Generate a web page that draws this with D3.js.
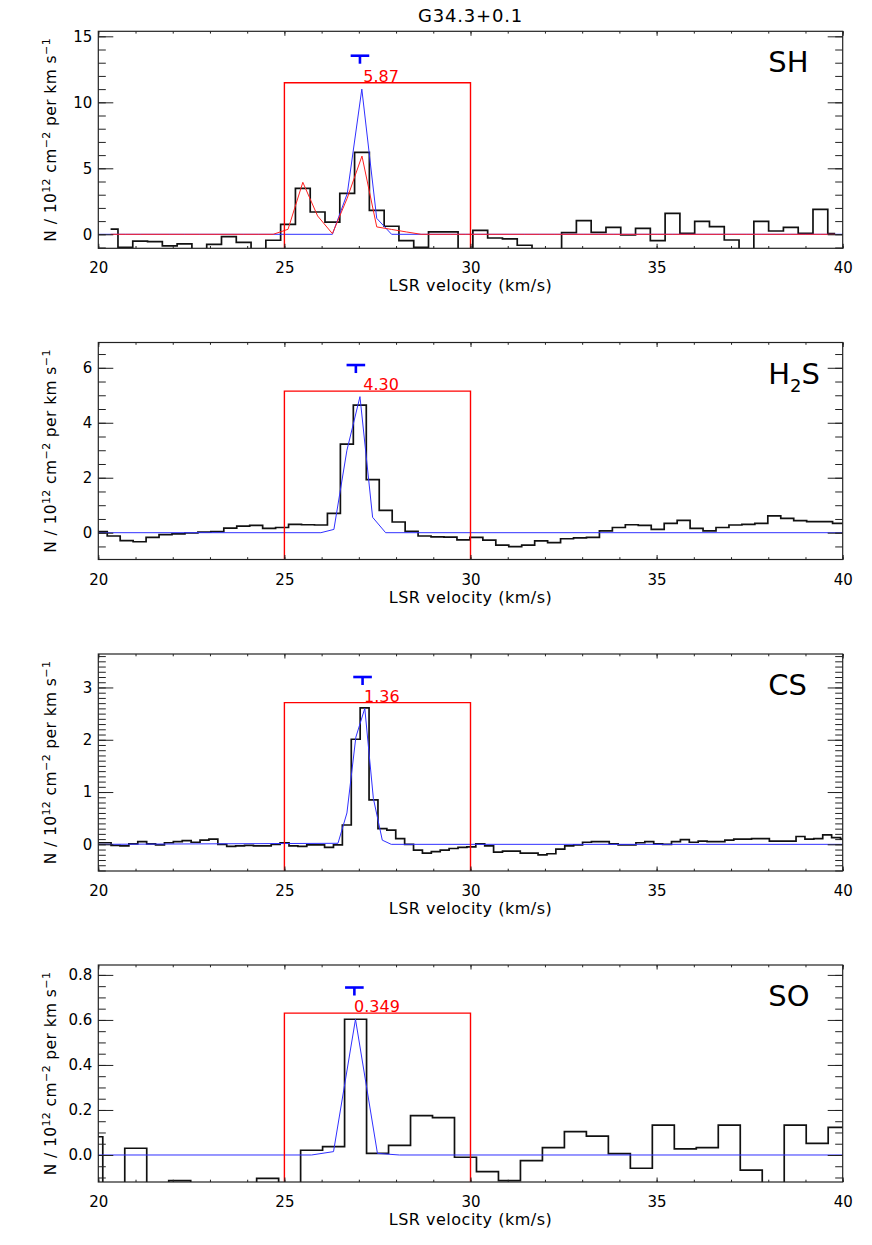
<!DOCTYPE html>
<html>
<head>
<meta charset="utf-8">
<script src="https://cdn.jsdelivr.net/npm/d3@7"></script>
<style>
  html, body { margin: 0; padding: 0; background: #fff; }
  svg { display: block; font-family: "DejaVu Sans", sans-serif; }
</style>
</head>
<body>
<script>
// ---------------- DATA ----------------
const chartTitle = "G34.3+0.1";
const xDomain = [20, 40];
const xMajorTicks = [20, 25, 30, 35, 40];
const xMinorStep = 1;
const xAxisTitle = "LSR velocity (km/s)";

const panelLabels = ["SH", "H2S", "CS", "SO"];

// SH : channel grid + observed column density per channel
const shStart = 20.33, shStep = 0.3973;
const shObs = [0.40, -0.98, -0.51, -0.56, -0.88, -0.73, -1.40, -0.76, -0.18, -0.61,
  -1.30, -0.45, 0.76, 3.48, 1.69, 0.93, 3.10, 6.21, 1.82, 0.61,
  -0.48, -0.98, 0.18, 0.18, -1.35, 0.30, -0.28, -0.35, -0.83, -1.45,
  -1.20, 0.13, 1.04, 0.15, 0.53, -0.05, 0.45, -0.48, 1.59, 0.08,
  0.98, 0.58, -0.43, -1.25, 0.98, 0.25, 0.53, 0.08, 1.89, 0.05];
const shRedModel = [0, 0, 0, 0, 0, 0, 0, 0, 0, 0,
  0, 0, 0.38, 3.94, 1.39, 0.05, 2.73, 5.93, 0.56, 0.37,
  0.18, 0, 0, 0, 0, 0, 0, 0, 0, 0,
  0, 0, 0, 0, 0, 0, 0, 0, 0, 0,
  0, 0, 0, 0, 0, 0, 0, 0, 0, 0];
const shBlueV = [20, 26.29, 26.69, 27.08, 27.48, 27.88, 40];
const shBlueN = [0, 0, 3.1, 11.0, 1.21, 0, 0];

// H2S
const h2sStart = 19.718, h2sStep = 0.348;
const h2sObs = [0.04, 0.04, -0.12, -0.29, -0.33, -0.17, -0.07, -0.04, -0.01, 0.02, 0.04,
  0.17, 0.24, 0.27, 0.16, 0.19, 0.30, 0.29, 0.28, 0.70, 3.22,
  4.64, 1.93, 0.81, 0.39, 0.05, -0.12, -0.15, -0.16, -0.26, -0.17,
  -0.27, -0.45, -0.51, -0.45, -0.30, -0.36, -0.22, -0.19, -0.17, 0.07,
  0.19, 0.29, 0.27, 0.12, 0.34, 0.45, 0.16, 0.07, 0.19, 0.28,
  0.30, 0.34, 0.61, 0.52, 0.44, 0.40, 0.40, 0.34, 0.34];
const h2sBlueV = [20, 25.98, 26.33, 26.68, 27.03, 27.37, 27.72, 40];
const h2sBlueN = [0, 0, 0.12, 3.0, 4.95, 0.56, 0, 0];

// CS
const csStart = 19.985, csStep = 0.239;
const csObs = [0.03, 0.03, -0.02, -0.03, 0.01, 0.05, 0.01, -0.01, 0.03, 0.05,
  0.07, 0.04, 0.08, 0.10, 0.00, -0.04, -0.03, -0.02, -0.03, -0.03,
  0.00, 0.03, -0.03, -0.04, -0.01, -0.01, -0.06, -0.01, 0.37, 2.01,
  2.61, 0.85, 0.30, 0.27, 0.11, 0.00, -0.11, -0.17, -0.14, -0.11,
  -0.08, -0.06, -0.05, 0.01, -0.03, -0.15, -0.13, -0.13, -0.17, -0.17,
  -0.20, -0.18, -0.09, -0.03, -0.01, 0.04, 0.05, 0.05, 0.01, -0.01,
  -0.01, 0.03, 0.05, 0.01, 0.00, 0.05, 0.09, 0.04, 0.06, 0.05,
  0.05, 0.08, 0.10, 0.10, 0.11, 0.11, 0.06, 0.06, 0.06, 0.15,
  0.10, 0.11, 0.18, 0.13, 0.10];
const csBlueV = [20, 26.44, 26.68, 26.92, 27.16, 27.39, 27.63, 27.87, 40];
const csBlueN = [0, 0.02, 0.6, 2.05, 2.6, 0.88, 0.08, 0, 0];

// SO
const soStart = 19.825, soStep = 0.5906;
const soObs = [0.081, -0.2, 0.030, -0.2, -0.114, -0.2, -0.2, -0.2, -0.104, -0.2,
  0.021, 0.037, 0.603, 0.007, 0.043, 0.175, 0.166, -0.010, -0.074, -0.114,
  -0.025, 0.033, 0.104, 0.084, 0.006, -0.059, 0.133, 0.027, 0.033, 0.133,
  -0.067, -0.2, 0.133, 0.052, 0.123, 0.123];
const soBlueV = [20, 25.73, 26.32, 26.91, 27.50, 28.09, 40];
const soBlueN = [0, 0, 0.015, 0.603, 0.007, 0, 0];

// y ranges, ticks
const yRanges = [[-1.06, 15.38], [-0.975, 6.92], [-0.51, 3.64], [-0.12, 0.844]];
const yMajorSteps = [5, 2, 1, 0.2];
const yMinorSteps = [1, 0.5, 0.1, 0.05];
const yTickFormats = ["d", "d", "d", ".1f"];

// integration window, integrated values, markers
const windowV = [25, 30];
const windowTop = [11.48, 5.15, 2.71, 0.63];
const integratedText = ["5.87", "4.30", "1.36", "0.349"];
const integratedTextV = [27.12, 27.12, 27.14, 26.87];
const markerV = [27.03, 26.92, 27.10, 26.88];
const markerN = [13.53, 6.10, 3.20, 0.744];
const markerHalfWidth = 0.25;

// ---------------- LAYOUT ----------------
const W = 872, H = 1245;
const plotLeft = 98.3, plotRight = 842.7;
const panelTops = [31.3, 342.5, 654, 965];
const panelHeight = 217;

const svg = d3.select("body").append("svg").attr("width", W).attr("height", H);

const x = d3.scaleLinear().domain(xDomain).range([plotLeft, plotRight]);

svg.append("text")
  .attr("x", (plotLeft + plotRight) / 2).attr("y", 22)
  .attr("text-anchor", "middle")
  .style("font-size", "18px").style("letter-spacing", "0.8px")
  .text(chartTitle);

function grid(start, step, n) { return d3.range(n).map(i => start + step * i); }

const panels = [
  { v: grid(shStart, shStep, shObs.length), n: shObs, red: shRedModel, bv: shBlueV, bn: shBlueN },
  { v: grid(h2sStart, h2sStep, h2sObs.length), n: h2sObs, red: null, bv: h2sBlueV, bn: h2sBlueN },
  { v: grid(csStart, csStep, csObs.length), n: csObs, red: null, bv: csBlueV, bn: csBlueN },
  { v: grid(soStart, soStep, soObs.length), n: soObs, red: null, bv: soBlueV, bn: soBlueN }
];

function stepPoints(vs, ns) {
  const pts = [], n = vs.length;
  for (let i = 0; i < n; i++) {
    const l = i === 0 ? vs[0] : (vs[i - 1] + vs[i]) / 2;
    const r = i === n - 1 ? vs[n - 1] : (vs[i] + vs[i + 1]) / 2;
    pts.push([l, ns[i]], [r, ns[i]]);
  }
  return pts;
}

function rangeTicks(dom, step) {
  const s = Math.ceil(dom[0] / step - 1e-9), e = Math.floor(dom[1] / step + 1e-9);
  return d3.range(s, e + 1).map(k => +(k * step).toFixed(6));
}

panels.forEach((p, i) => {
  const top = panelTops[i], bottom = top + panelHeight;
  const y = d3.scaleLinear().domain(yRanges[i]).range([bottom, top]);
  const g = svg.append("g");

  const clipId = "clip" + i;
  svg.append("clipPath").attr("id", clipId).append("rect")
    .attr("x", plotLeft).attr("y", top).attr("width", plotRight - plotLeft).attr("height", panelHeight);
  const inner = g.append("g").attr("clip-path", `url(#${clipId})`);

  const line = d3.line().x(d => x(d[0])).y(d => y(d[1]));

  // observed spectrum (histogram style)
  inner.append("path").attr("d", line(stepPoints(p.v, p.n)))
    .attr("fill", "none").attr("stroke", "#111").attr("stroke-width", 1.7);

  // blue model
  inner.append("path").attr("d", line(p.bv.map((v, k) => [v, p.bn[k]])))
    .attr("fill", "none").attr("stroke", "#3030ff").attr("stroke-width", 1);

  // red model (SH only)
  if (p.red) {
    inner.append("path").attr("d", line(p.v.map((v, k) => [v, p.red[k]])))
      .attr("fill", "none").attr("stroke", "#ff2020").attr("stroke-width", 1);
  }

  // integration window
  inner.append("path")
    .attr("d", line([[windowV[0], yRanges[i][0] - 10], [windowV[0], windowTop[i]], [windowV[1], windowTop[i]], [windowV[1], yRanges[i][0] - 10]]))
    .attr("fill", "none").attr("stroke", "#ff0000").attr("stroke-width", 1.4);

  // marker "T"
  const my = y(markerN[i]);
  g.append("line").attr("x1", x(markerV[i] - markerHalfWidth)).attr("x2", x(markerV[i] + markerHalfWidth))
    .attr("y1", my).attr("y2", my).attr("stroke", "#0000ff").attr("stroke-width", 2.6);
  g.append("line").attr("x1", x(markerV[i])).attr("x2", x(markerV[i]))
    .attr("y1", my).attr("y2", my + 8).attr("stroke", "#0000ff").attr("stroke-width", 2.6);

  // integrated value
  g.append("text").attr("x", x(integratedTextV[i])).attr("y", y(windowTop[i]) - 1)
    .attr("fill", "#ff0000").style("font-size", "16px").text(integratedText[i]);

  // panel label
  const lab = g.append("text").attr("x", x(38.0)).attr("y", top + 41).style("font-size", "29px");
  if (panelLabels[i] === "H2S") {
    lab.append("tspan").text("H");
    lab.append("tspan").style("font-size", "18px").attr("dy", 8).text("2");
    lab.append("tspan").attr("dy", -8).text("S");
  } else {
    lab.text(panelLabels[i]);
  }

  // axes
  const xMinor = rangeTicks(xDomain, xMinorStep);
  const yMajor = rangeTicks(yRanges[i], yMajorSteps[i]);
  const yMinor = rangeTicks(yRanges[i], yMinorSteps[i]);
  const axStyle = sel => { sel.select(".domain").remove(); sel.selectAll("line").attr("stroke", "#222"); };

  g.append("g").attr("transform", `translate(0,${bottom})`)
    .call(d3.axisBottom(x).tickValues(xMinor).tickSize(-2.3).tickFormat("")).call(axStyle);
  const xb = g.append("g").attr("transform", `translate(0,${bottom})`)
    .call(d3.axisBottom(x).tickValues(xMajorTicks).tickSize(-4.5).tickFormat(d3.format("d"))).call(axStyle);
  xb.selectAll("text").attr("y", 25).attr("dy", null)
    .attr("fill", "#000").style("font-size", "15px").style("font-family", "DejaVu Sans");

  g.append("g").attr("transform", `translate(0,${top})`)
    .call(d3.axisTop(x).tickValues(xMinor).tickSize(-2.3).tickFormat("")).call(axStyle);
  g.append("g").attr("transform", `translate(0,${top})`)
    .call(d3.axisTop(x).tickValues(xMajorTicks).tickSize(-4.5).tickFormat("")).call(axStyle);

  g.append("g").attr("transform", `translate(${plotLeft},0)`)
    .call(d3.axisLeft(y).tickValues(yMinor).tickSize(-7.5).tickFormat("")).call(axStyle);
  const yl = g.append("g").attr("transform", `translate(${plotLeft},0)`)
    .call(d3.axisLeft(y).tickValues(yMajor).tickSize(-15).tickPadding(6).tickFormat(d3.format(yTickFormats[i]))).call(axStyle);
  yl.selectAll("text").attr("fill", "#000").style("font-size", "15px").style("font-family", "DejaVu Sans");

  g.append("g").attr("transform", `translate(${plotRight},0)`)
    .call(d3.axisRight(y).tickValues(yMinor).tickSize(-7.5).tickFormat("")).call(axStyle);
  g.append("g").attr("transform", `translate(${plotRight},0)`)
    .call(d3.axisRight(y).tickValues(yMajor).tickSize(-15).tickFormat("")).call(axStyle);

  g.append("rect").attr("x", plotLeft).attr("y", top)
    .attr("width", plotRight - plotLeft).attr("height", panelHeight)
    .attr("fill", "none").attr("stroke", "#222").attr("stroke-width", 1.2);

  // axis titles
  g.append("text").attr("x", (plotLeft + plotRight) / 2).attr("y", bottom + 43)
    .attr("text-anchor", "middle").style("font-size", "16px").style("letter-spacing", "0.5px")
    .text(xAxisTitle);

  const yt = g.append("text")
    .attr("transform", `translate(56,${(top + bottom) / 2}) rotate(-90)`)
    .attr("text-anchor", "middle").style("font-size", "15.5px").style("letter-spacing", "0.4px");
  yt.append("tspan").text("N / 10");
  yt.append("tspan").style("font-size", "11px").attr("dy", -6).text("12");
  yt.append("tspan").attr("dy", 6).text(" cm");
  yt.append("tspan").style("font-size", "11px").attr("dy", -6).text("\u22122");
  yt.append("tspan").attr("dy", 6).text(" per km s");
  yt.append("tspan").style("font-size", "11px").attr("dy", -6).text("\u22121");
});
</script>
</body>
</html>
